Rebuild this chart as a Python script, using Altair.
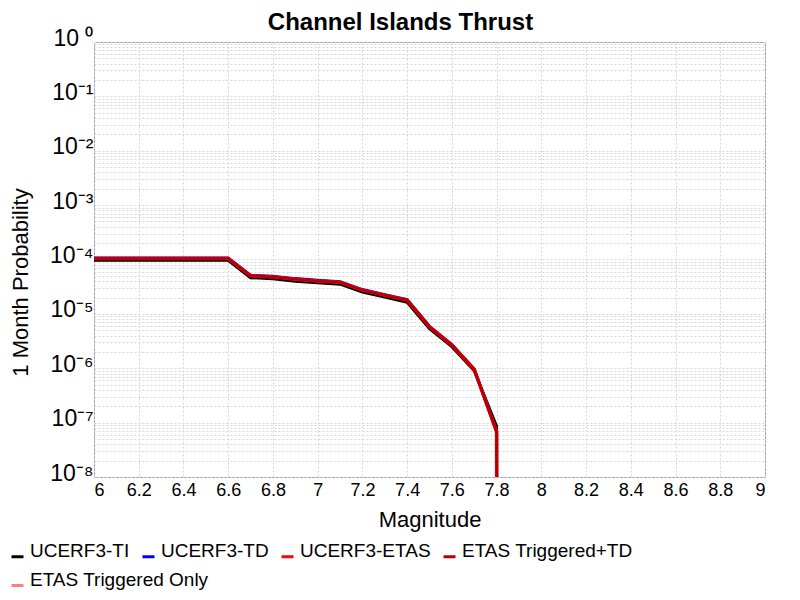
import altair as alt
import pandas as pd

# magnitude bins (x) and 1-month probabilities per model
mags = [6.0, 6.1, 6.2, 6.3, 6.4, 6.5, 6.6, 6.7, 6.8, 6.9,
        7.0, 7.1, 7.2, 7.3, 7.4, 7.5, 7.6, 7.7, 7.8, 7.9]

ucerf3_ti = [9.7e-5, 9.7e-5, 9.7e-5, 9.7e-5, 9.7e-5, 9.7e-5, 9.7e-5, 4.63e-5, 4.43e-5, 3.99e-5,
             3.75e-5, 3.52e-5, 2.51e-5, 2.03e-5, 1.64e-5, 5.35e-6, 2.49e-6, 9.0e-7, 8.6e-8, 0]
ucerf3_td = [1.065e-4, 1.065e-4, 1.065e-4, 1.065e-4, 1.065e-4, 1.065e-4, 1.065e-4, 5.12e-5, 4.9e-5, 4.45e-5,
             4.14e-5, 3.92e-5, 2.8e-5, 2.26e-5, 1.83e-5, 5.9e-6, 2.72e-6, 9.7e-7, 6.9e-8, 0]
ucerf3_etas = [1.04e-4, 1.04e-4, 1.04e-4, 1.04e-4, 1.04e-4, 1.04e-4, 1.04e-4, 5.0e-5, 4.79e-5, 4.34e-5,
               4.04e-5, 3.83e-5, 2.73e-5, 2.21e-5, 1.79e-5, 5.77e-6, 2.66e-6, 9.5e-7, 6.8e-8, 0]
etas_trig_td = [1.04e-4, 1.04e-4, 1.04e-4, 1.04e-4, 1.04e-4, 1.04e-4, 1.04e-4, 5.0e-5, 4.79e-5, 4.34e-5,
                4.04e-5, 3.83e-5, 2.73e-5, 2.21e-5, 1.79e-5, 5.77e-6, 2.66e-6, 9.5e-7, 6.8e-8, 0]
etas_trig_only = [0] * len(mags)

series_names = ["UCERF3-TI", "UCERF3-TD", "UCERF3-ETAS", "ETAS Triggered+TD", "ETAS Triggered Only"]
series_colors = ["#000000", "#0000ff", "#ff0000", "#b40000", "#ff8080"]
series_values = [ucerf3_ti, ucerf3_td, ucerf3_etas, etas_trig_td, etas_trig_only]

x_ticks = [6, 6.2, 6.4, 6.6, 6.8, 7, 7.2, 7.4, 7.6, 7.8, 8, 8.2, 8.4, 8.6, 8.8, 9]
decades = list(range(-8, 0))
y_ticks = [m * 10.0 ** e for e in decades for m in range(1, 10)] + [1.0]

rows = []
for name, vals in zip(series_names, series_values):
    for m, p in zip(mags, vals):
        # zero probability -> practically -inf on a log axis (line drops straight down)
        rows.append({"series": name, "mag": m, "prob": max(p, 1e-300)})
df = pd.DataFrame(rows)

sup = "[' ⁰','⁻¹','⁻²','⁻³','⁻⁴','⁻⁵','⁻⁶','⁻⁷','⁻⁸']"
lg = "log(datum.value)/LN10"
y_label_expr = f"abs({lg} - round({lg})) < 0.001 ? '10' + {sup}[-round({lg})] : ''"

x_enc = alt.X("mag:Q", scale=alt.Scale(domain=[6, 9], nice=False),
              axis=alt.Axis(values=x_ticks, format=".1~f", title="Magnitude",
                            titleX=335.5, titleY=42, titleBaseline="middle"))
y_enc = alt.Y("prob:Q", scale=alt.Scale(type="log", domain=[1e-8, 1], nice=False),
              axis=alt.Axis(values=y_ticks, labelExpr=y_label_expr,
                            title="1 Month Probability",
                            titleX=-74, titleY=240, titleBaseline="middle"))

# first four series share one legend row, the last one gets a second row
row1 = series_names[:4]
color = alt.Color("series:N", scale=alt.Scale(domain=row1, range=series_colors[:4]),
                  title="", legend=alt.Legend(legendX=-86, legendY=505))
stroke = alt.Stroke("series:N", scale=alt.Scale(domain=series_names[4:], range=series_colors[4:]),
                    title="", legend=alt.Legend(legendX=-86, legendY=534))

base = alt.Chart(df).encode(x=x_enc, y=y_enc)

layers = [
    base.transform_filter(alt.datum.series == "ETAS Triggered Only")
    .mark_line(strokeWidth=3, clip=True).encode(stroke=stroke)
]
for name, sw in [("UCERF3-TI", 3), ("UCERF3-TD", 3), ("UCERF3-ETAS", 3.5), ("ETAS Triggered+TD", 2.5)]:
    layers.append(
        base.transform_filter(alt.datum.series == name)
        .mark_line(strokeWidth=sw, clip=True).encode(color=color)
    )

chart = alt.layer(*layers).properties(
    width=671,
    height=435,
    autosize=alt.AutoSizeParams(type="none"),
    padding={"left": 86, "top": 34, "right": 27, "bottom": 116},
    title=alt.TitleParams("Channel Islands Thrust", fontSize=24, fontWeight="bold",
                          font="Liberation Sans", color="black", anchor="middle",
                          frame="group", dx=-29, dy=12),
).configure_view(
    stroke="#999999", strokeWidth=1
).configure_axis(
    domain=False, ticks=False, grid=True,
    gridColor="#d6d6d6", gridDash=[2, 2], gridWidth=1,
    labelFont="Liberation Sans", titleFont="Liberation Sans",
    labelColor="black", titleColor="black",
    titleFontWeight="normal", titleFontSize=22, labelOverlap=False,
).configure_axisX(
    labelFontSize=18, labelPadding=4,
).configure_axisY(
    labelFontSize=23, labelPadding=1, labelOffset=-4, labelBaseline="middle",
).configure_legend(
    orient="none", direction="horizontal",
    columnPadding=6, padding=0,
    labelOffset=3, symbolType="stroke", symbolSize=144, symbolStrokeWidth=3,
    labelFontSize=19, labelFont="Liberation Sans", labelColor="black",
    labelLimit=400, labelBaseline="alphabetic",
)

chart.save("out.html", embed_options={"renderer": "svg", "actions": False})
